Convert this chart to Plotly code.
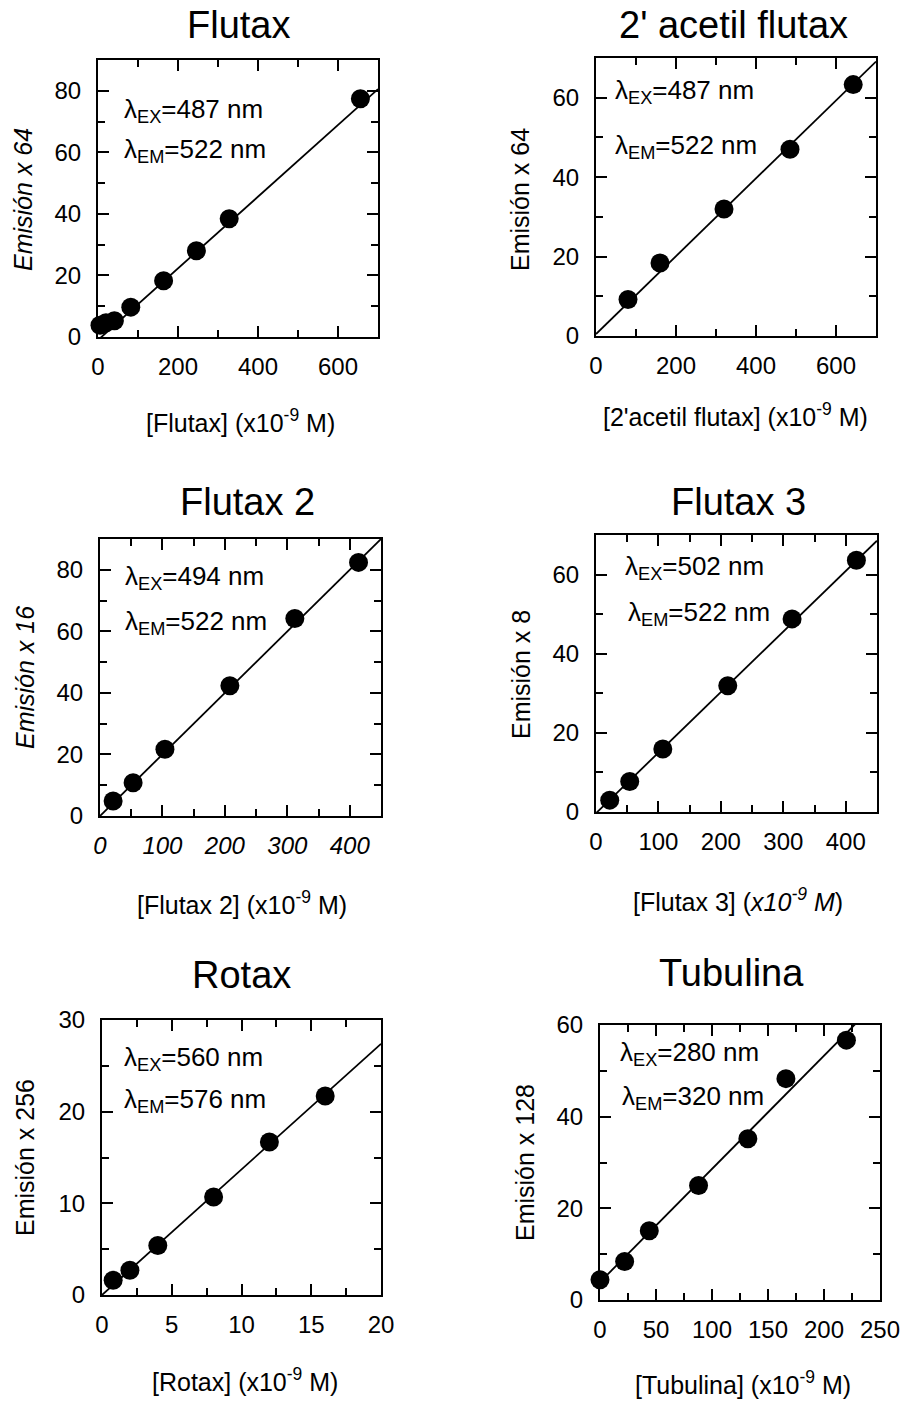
import numpy as np
import plotly.graph_objects as go

W, H = 906, 1403
FONT = "Arial, Liberation Sans, Helvetica, sans-serif"

# ---- data: concentration (x10^-9 M) vs. emission ----
flutax_conc = [5, 20, 41, 82, 164, 246, 328, 656]
flutax_em = [3.8, 4.6, 5.3, 9.7, 18.3, 28.0, 38.4, 77.4]

acetil_conc = [80, 160, 320, 485, 643]
acetil_em = [9.2, 18.4, 32.0, 47.0, 63.3]

flutax2_conc = [21, 53, 104, 208, 312, 414]
flutax2_em = [4.9, 10.8, 21.7, 42.3, 64.2, 82.4]

flutax3_conc = [22, 54, 107, 211, 314, 417]
flutax3_em = [3.0, 7.7, 15.9, 31.9, 48.8, 63.6]

rotax_conc = [0.8, 2.0, 4.0, 8.0, 12.0, 16.0]
rotax_em = [1.6, 2.7, 5.4, 10.7, 16.7, 21.7]

tubulina_conc = [0, 22, 44, 88, 132, 166, 220]
tubulina_em = [4.4, 8.4, 15.1, 25.0, 35.2, 48.3, 56.7]

# linear fits (intercept, slope)
flutax_fit = (-1.0, 0.1165)
acetil_fit = (0.5, 0.098)
flutax2_fit = (0.0, 0.2)
flutax3_fit = (-0.3, 0.153)
rotax_fit = (0.0, 1.37)
tubulina_fit = (3.9, 0.247)

# wavelengths (nm)
ex_nm = [487, 487, 494, 502, 560, 280]
em_nm = [522, 522, 522, 522, 576, 320]

titles = ["Flutax", "2' acetil flutax", "Flutax 2", "Flutax 3", "Rotax", "Tubulina"]
x_titles = ["[Flutax]", "[2'acetil flutax]", "[Flutax 2]", "[Flutax 3]", "[Rotax]", "[Tubulina]"]
y_titles = ["Emisión x 64", "Emisión x 64", "Emisión x 16", "Emisión x 8", "Emisión x 256", "Emisión x 128"]

series = [
    (flutax_conc, flutax_em, flutax_fit),
    (acetil_conc, acetil_em, acetil_fit),
    (flutax2_conc, flutax2_em, flutax2_fit),
    (flutax3_conc, flutax3_em, flutax3_fit),
    (rotax_conc, rotax_em, rotax_fit),
    (tubulina_conc, tubulina_em, tubulina_fit),
]

# ---- panel geometry in pixels: frame (left, right, top, bottom) ----
frames = [
    (98, 378, 60, 337),
    (596, 876, 58, 336),
    (100, 381, 539, 816),
    (596, 877, 535, 812),
    (102, 381, 1020, 1295),
    (600, 880, 1025, 1300),
]
x_ranges = [(0, 700), (0, 700), (0, 450), (0, 450), (0, 20), (0, 250)]
y_ranges = [(0, 90), (0, 70), (0, 90), (0, 70), (0, 30), (0, 60)]
x_dticks = [(200, 100), (200, 100), (100, 50), (100, 50), (5, 2.5), (50, 25)]
y_dticks = [(20, 10), (20, 10), (20, 10), (20, 10), (10, 5), (20, 10)]

title_pos = [(238, 25), (733, 25), (247, 502), (738, 502), (242, 975), (731, 973)]
xtitle_pos = [(240, 421), (735, 415), (242, 903), (738, 900), (245, 1380), (743, 1383)]
ytitle_pos = [(23, 200), (520, 200), (25, 678), (521, 675), (25, 1158), (525, 1163)]
lam_pos = [
    ((122, 110), (122, 150)),
    ((613, 92), (613, 147)),
    ((123, 577), (123, 622)),
    ((623, 568), (626, 613)),
    ((122, 1058), (122, 1100)),
    ((618, 1053), (620, 1097)),
]
italic_ytitle = [True, False, True, False, False, False]
italic_xticks = [False, False, True, False, False, False]


def px(x):
    return x / W


def py(y):
    return 1 - y / H


fig = go.Figure()
annotations = []

for i, (xs, ys, (b0, b1)) in enumerate(series):
    n = "" if i == 0 else str(i + 1)
    xa, ya = "x" + n, "y" + n
    L, R, T, B = frames[i]

    # fitted line across the full x range
    xr = np.array(x_ranges[i], dtype=float)
    fig.add_trace(go.Scatter(
        x=xr, y=b0 + b1 * xr, mode="lines",
        line=dict(color="black", width=1.8),
        xaxis=xa, yaxis=ya, showlegend=False, hoverinfo="skip",
    ))
    fig.add_trace(go.Scatter(
        x=xs, y=ys, mode="markers",
        marker=dict(color="black", size=19, line=dict(width=0)),
        cliponaxis=False, xaxis=xa, yaxis=ya, showlegend=False,
    ))

    tickfont = dict(family=FONT, size=24, color="black")
    xtickfont = dict(tickfont, style="italic") if italic_xticks[i] else tickfont
    common = dict(
        showline=True, linecolor="black", linewidth=2, mirror="ticks",
        ticks="inside", ticklen=11, tickwidth=2, tickcolor="black",
        showgrid=False, zeroline=False, automargin=False,
    )
    fig.update_layout(**{
        ("xaxis" + n): dict(
            common, domain=[px(L), px(R)], anchor=ya, range=list(x_ranges[i]),
            dtick=x_dticks[i][0], tick0=0, tickfont=xtickfont, ticklabelstandoff=7,
            minor=dict(dtick=x_dticks[i][1], tick0=0, ticks="inside", ticklen=7,
                       tickwidth=2, tickcolor="black"),
        ),
        ("yaxis" + n): dict(
            common, domain=[py(B), py(T)], anchor=xa, range=list(y_ranges[i]),
            dtick=y_dticks[i][0], tick0=0, tickfont=tickfont, ticklabelstandoff=10,
            minor=dict(dtick=y_dticks[i][1], tick0=0, ticks="inside", ticklen=7,
                       tickwidth=2, tickcolor="black"),
        ),
    })

    # panel title
    annotations.append(dict(
        text=titles[i], x=px(title_pos[i][0]), y=py(title_pos[i][1]),
        xref="paper", yref="paper", showarrow=False, xanchor="center", yanchor="middle",
        font=dict(family=FONT, size=38, color="black"),
    ))
    # x-axis title
    unit = "(<i>x10<sup>-9</sup> M</i>)" if i == 3 else "(x10<sup>-9</sup> M)"
    annotations.append(dict(
        text=f"{x_titles[i]} {unit}", x=px(xtitle_pos[i][0]), y=py(xtitle_pos[i][1]),
        xref="paper", yref="paper", showarrow=False, xanchor="center", yanchor="middle",
        font=dict(family=FONT, size=25, color="black"),
    ))
    # y-axis title
    yt = f"<i>{y_titles[i]}</i>" if italic_ytitle[i] else y_titles[i]
    annotations.append(dict(
        text=yt, x=px(ytitle_pos[i][0]), y=py(ytitle_pos[i][1]), textangle=-90,
        xref="paper", yref="paper", showarrow=False, xanchor="center", yanchor="middle",
        font=dict(family=FONT, size=25, color="black"),
    ))
    # excitation / emission wavelengths
    (ex_x, ex_y), (em_x, em_y) = lam_pos[i]
    annotations.append(dict(
        text=f"λ<sub>EX</sub>={ex_nm[i]} nm", x=px(ex_x), y=py(ex_y),
        xref="paper", yref="paper", showarrow=False, xanchor="left", yanchor="middle",
        font=dict(family=FONT, size=26, color="black"),
    ))
    annotations.append(dict(
        text=f"λ<sub>EM</sub>={em_nm[i]} nm", x=px(em_x), y=py(em_y),
        xref="paper", yref="paper", showarrow=False, xanchor="left", yanchor="middle",
        font=dict(family=FONT, size=26, color="black"),
    ))

fig.update_layout(
    width=W, height=H,
    margin=dict(l=0, r=0, t=0, b=0, autoexpand=False),
    paper_bgcolor="white", plot_bgcolor="white",
    annotations=annotations,
    font=dict(family=FONT, color="black"),
)

fig.write_html("out.html")
